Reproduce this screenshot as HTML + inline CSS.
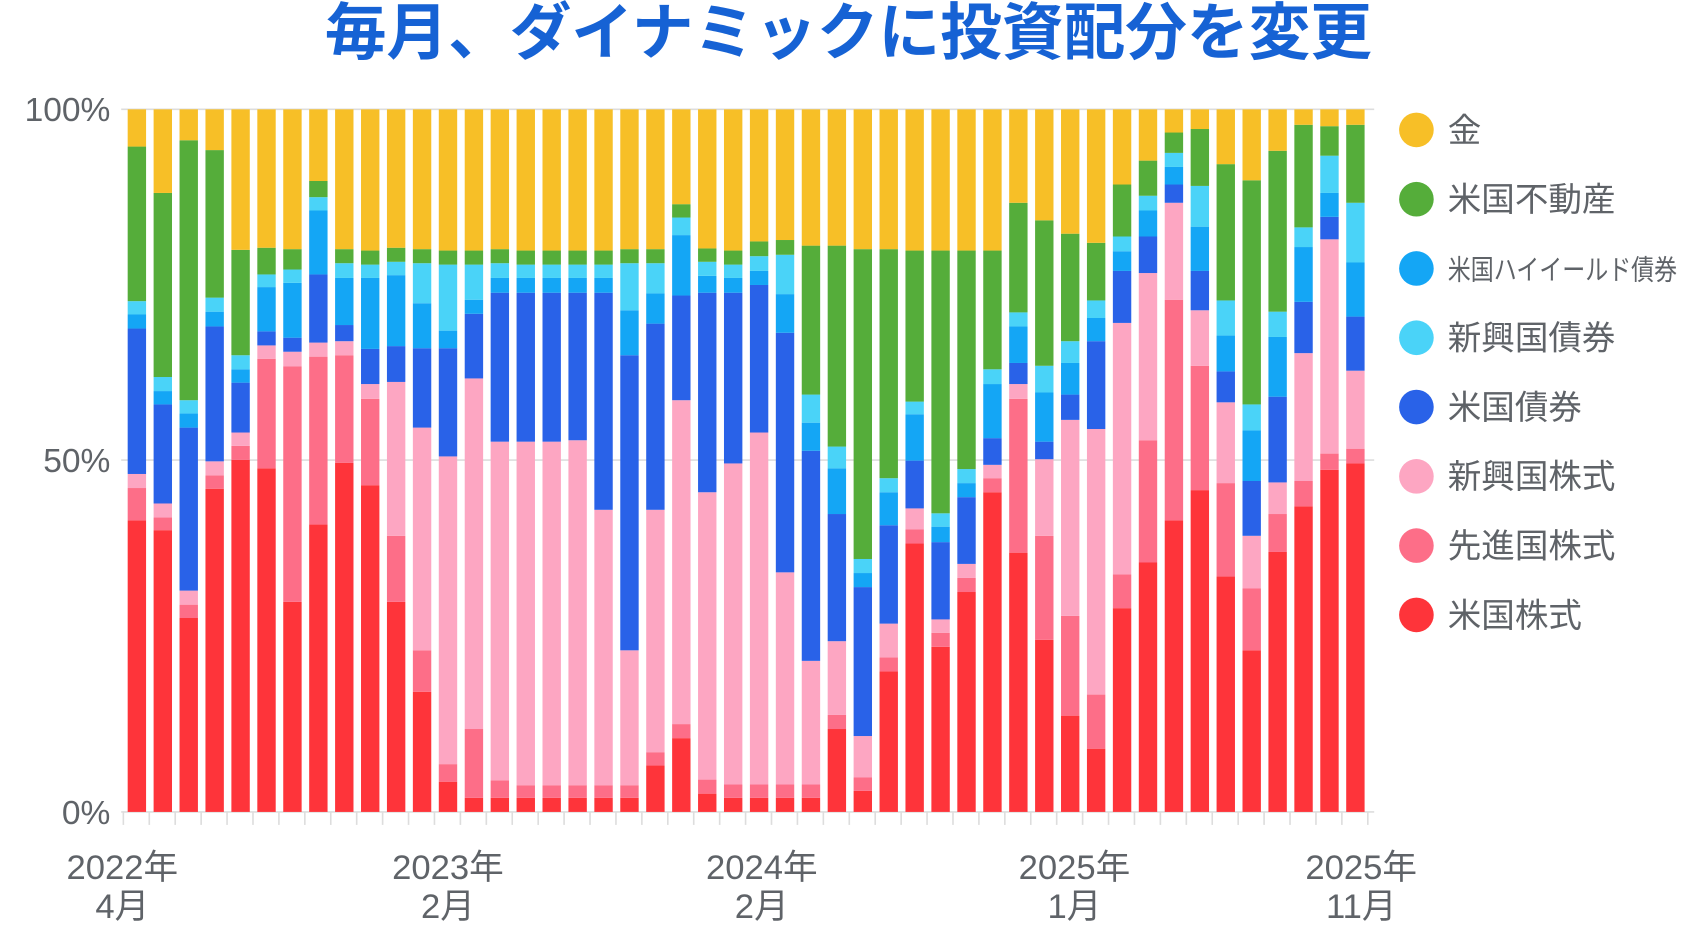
<!DOCTYPE html>
<html><head><meta charset="utf-8">
<style>
html,body{margin:0;padding:0;background:#fff;}
body{width:1688px;height:931px;overflow:hidden;}
svg{display:block;}
text{font-family:"Liberation Sans","Noto Sans CJK JP",sans-serif;}
</style></head><body>
<svg id="s" width="1688" height="931" viewBox="0 0 1560 860" preserveAspectRatio="none" xmlns="http://www.w3.org/2000/svg">
<text x="784" y="50" text-anchor="middle" font-size="57" font-weight="bold" fill="#1662d4" font-family="'Noto Sans CJK JP',sans-serif">毎月、ダイナミックに投資配分を変更</text>
<g fill="#5f6368" font-size="31" text-anchor="end">
<text x="102" y="112">100%</text>
<text x="102" y="436">50%</text>
<text x="102" y="761">0%</text>
</g>
<line x1="112" y1="101" x2="1270" y2="101" stroke="#ddd" stroke-width="1.5"/>
<line x1="112" y1="425" x2="1270" y2="425" stroke="#ddd" stroke-width="1.5"/>
<line x1="112" y1="750" x2="1270" y2="750" stroke="#ddd" stroke-width="1.5"/>
<g id="ticks" stroke="#ddd" stroke-width="1.5"></g>
<g id="bars"></g>
<g fill="#5f6368" font-size="32" text-anchor="middle">
<text x="113" y="812">2022年</text><text x="113" y="848">4月</text>
<text x="414" y="812">2023年</text><text x="414" y="848">2月</text>
<text x="704" y="812">2024年</text><text x="704" y="848">2月</text>
<text x="993" y="812">2025年</text><text x="993" y="848">1月</text>
<text x="1258" y="812">2025年</text><text x="1258" y="848">11月</text>
</g>
<g font-size="31" fill="#5f6368">
<circle cx="1309" cy="120" r="16" fill="#f7bf27"/><text x="1338" y="131">金</text>
<circle cx="1309" cy="184" r="16" fill="#55ad3a"/><text x="1338" y="195">米国不動産</text>
<circle cx="1309" cy="248" r="16" fill="#14a6f5"/><text x="1338" y="258" font-size="26" textLength="212" lengthAdjust="spacingAndGlyphs">米国ハイイールド債券</text>
<circle cx="1309" cy="312" r="16" fill="#4ad3f8"/><text x="1338" y="323">新興国債券</text>
<circle cx="1309" cy="376" r="16" fill="#2962e8"/><text x="1338" y="387">米国債券</text>
<circle cx="1309" cy="440" r="16" fill="#fda6c2"/><text x="1338" y="451">新興国株式</text>
<circle cx="1309" cy="504" r="16" fill="#fd6e88"/><text x="1338" y="515">先進国株式</text>
<circle cx="1309" cy="568" r="16" fill="#fe343a"/><text x="1338" y="579">米国株式</text>
</g>
</svg>
<script>
var D=[
[41.5,46.1,48.1,68.8,70.8,72.7,94.7],
[40.1,41.9,43.9,58.0,59.9,61.9,88.1],
[27.6,29.5,31.5,54.7,56.7,58.6,95.6],
[46.0,47.9,49.9,69.1,71.2,73.2,94.2],
[50.1,52.1,54.0,61.1,63.0,65.0,80.0],
[48.9,64.5,66.4,68.4,74.7,76.5,80.3],
[29.9,63.4,65.5,67.5,75.3,77.2,80.1],
[40.9,64.8,66.8,76.5,85.6,87.5,89.8],
[49.7,65.0,67.0,69.3,76.0,78.1,80.1],
[46.5,58.8,60.9,65.9,76.0,77.9,79.9],
[29.9,39.3,61.2,66.3,76.4,78.3,80.3],
[17.1,23.0,54.7,66.0,72.4,78.1,80.1],
[4.3,6.8,50.6,66.0,68.5,77.9,79.9],
[2.0,11.8,61.7,70.9,72.9,77.9,79.9],
[2.0,4.5,52.7,73.9,76.0,78.1,80.1],
[2.0,3.8,52.7,73.9,76.0,77.9,79.9],
[2.0,3.8,52.7,73.9,76.0,77.9,79.9],
[2.0,3.8,52.9,73.9,76.0,77.9,79.9],
[2.0,3.8,43.0,73.9,76.0,77.9,79.9],
[2.0,3.8,23.0,65.0,71.4,78.1,80.1],
[6.6,8.5,43.0,69.5,73.8,78.1,80.1],
[10.5,12.5,58.6,73.5,82.1,84.6,86.5],
[2.6,4.6,45.5,73.9,76.3,78.3,80.2],
[2.0,3.9,49.6,73.9,76.0,77.9,79.9],
[2.0,3.9,54.0,75.0,77.0,79.1,81.2],
[2.0,3.9,34.1,68.2,73.7,79.3,81.4],
[2.0,3.9,21.5,51.4,55.4,59.4,80.6],
[11.8,13.8,24.3,42.4,48.9,52.0,80.6],
[3.0,4.9,10.8,32.0,34.0,36.0,80.1],
[20.0,22.0,26.8,40.8,45.5,47.5,80.1],
[38.2,40.2,43.2,50.0,56.6,58.4,79.9],
[23.5,25.5,27.4,38.4,40.6,42.5,79.9],
[31.3,33.3,35.3,44.8,46.8,48.8,79.9],
[45.5,47.5,49.4,53.2,60.9,63.0,79.9],
[36.9,58.8,60.9,63.9,69.1,71.1,86.7],
[24.5,39.3,50.2,52.7,59.7,63.5,84.2],
[13.7,27.9,55.8,59.4,63.9,67.0,82.3],
[9.0,16.7,54.5,67.0,70.3,72.8,81.0],
[29.0,33.8,69.6,77.0,79.8,81.9,89.3],
[35.5,52.9,76.7,81.9,85.6,87.7,92.7],
[41.5,72.9,86.7,89.3,91.8,93.8,96.7],
[45.8,63.5,71.4,77.0,83.3,89.1,97.2],
[33.5,46.8,58.3,62.7,67.8,72.8,92.2],
[23.0,31.8,39.3,47.1,54.3,58.0,89.9],
[37.0,42.4,46.9,59.1,67.6,71.2,94.1],
[43.5,47.1,65.3,72.6,80.4,83.2,97.8],
[48.7,51.0,81.5,84.7,88.1,93.4,97.6],
[49.6,51.7,62.8,70.5,78.2,86.7,97.8]];
var C=["#fe343a","#fd6e88","#fda6c2","#2962e8","#14a6f5","#4ad3f8","#55ad3a","#f7bf27"];
var ns="http://www.w3.org/2000/svg",g=document.getElementById("bars"),t=document.getElementById("ticks");
function Y(p){return 750-p*6.49;}
for(var i=0;i<48;i++){
 var x=118+i*23.96,prev=0,vals=D[i].concat([100]);
 for(var k=0;k<8;k++){
  var r=document.createElementNS(ns,"rect");
  r.setAttribute("x",x);r.setAttribute("width",17);
  r.setAttribute("y",Y(vals[k]));r.setAttribute("height",Math.max(0,Y(prev)-Y(vals[k])));
  r.setAttribute("fill",C[k]);g.appendChild(r);prev=vals[k];
 }
}
for(var j=0;j<=48;j++){
 var lx=114+j*23.96,l=document.createElementNS(ns,"line");
 l.setAttribute("x1",lx);l.setAttribute("x2",lx);l.setAttribute("y1",750);l.setAttribute("y2",762);t.appendChild(l);
}
</script>
</body></html>
